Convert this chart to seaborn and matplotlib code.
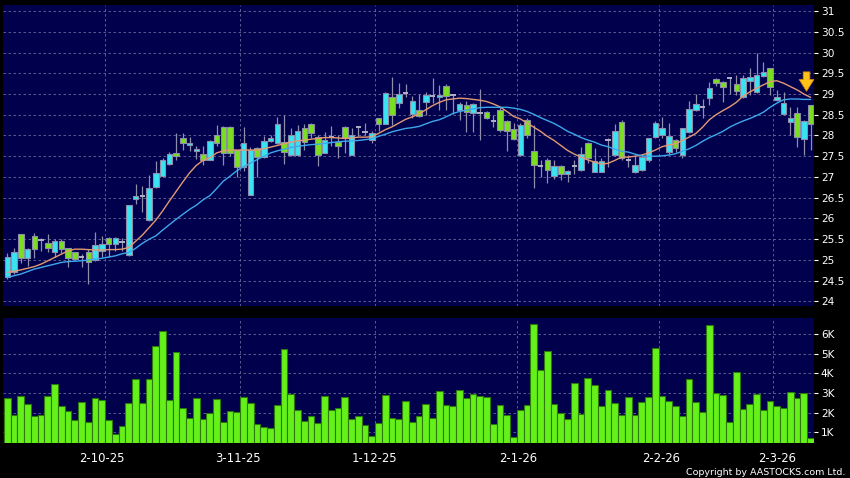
import numpy as np
import pandas as pd
import matplotlib
matplotlib.use("Agg")
import matplotlib.pyplot as plt
import seaborn as sns

# ------------------------ données ------------------------
opens = [24.58, 24.70, 25.62, 25.04, 25.57, 25.49, 25.40, 25.19, 25.45, 25.28,
         25.19, 25.06, 25.20, 25.00, 25.22, 25.54, 25.38, 25.44, 25.12, 26.47,
         26.53, 25.96, 26.75, 27.02, 27.31, 27.57, 27.93, 27.76, 27.62, 27.55,
         27.42, 28.00, 28.21, 28.21, 27.65, 27.23, 26.56, 27.69, 27.47, 27.86,
         27.83, 27.85, 27.52, 27.52, 28.17, 28.27, 27.96, 27.59, 27.97, 27.84,
         28.21, 27.53, 28.21, 28.09, 27.89, 28.41, 28.27, 28.94, 28.79, 29.02,
         28.51, 28.61, 28.80, 28.96, 28.94, 29.20, 28.97, 28.61, 28.74, 28.54,
         28.55, 28.56, 28.34, 28.61, 28.36, 28.15, 27.52, 28.38, 27.63, 27.27,
         27.41, 27.02, 27.27, 27.06, 27.27, 27.17, 27.81, 27.13, 27.13, 27.88,
         27.53, 28.32, 27.40, 27.13, 27.18, 27.41, 27.97, 28.01, 27.61, 27.89,
         27.53, 28.09, 28.61, 28.69, 28.90, 29.35, 29.30, 29.39, 29.24, 28.92,
         29.32, 29.04, 29.44, 29.62, 28.86, 28.51, 28.32, 28.55, 27.91, 28.73]
highs = [25.16, 25.28, 25.63, 25.30, 25.66, 25.52, 25.62, 25.50, 25.50, 25.30,
         25.20, 25.14, 25.26, 25.68, 25.58, 25.56, 25.55, 25.54, 26.33, 26.82,
         26.78, 27.05, 27.39, 27.45, 27.61, 28.05, 28.07, 27.97, 27.75, 27.75,
         27.90, 28.25, 28.22, 28.22, 27.66, 28.20, 27.72, 27.72, 27.98, 28.00,
         28.45, 28.49, 28.17, 28.25, 28.28, 28.30, 28.01, 28.09, 28.23, 28.00,
         28.22, 28.17, 28.21, 28.31, 28.10, 28.42, 29.04, 29.42, 29.26, 29.23,
         28.96, 29.00, 29.06, 29.38, 29.22, 29.24, 29.00, 28.80, 28.82, 28.78,
         29.11, 28.58, 28.50, 28.69, 28.38, 28.29, 28.31, 28.41, 28.25, 27.41,
         27.45, 27.41, 27.30, 27.17, 27.40, 27.73, 27.85, 27.69, 27.45, 27.95,
         28.28, 28.37, 27.53, 27.53, 27.55, 27.95, 28.35, 28.45, 28.31, 27.92,
         28.17, 28.82, 28.99, 28.87, 29.30, 29.38, 29.32, 29.39, 29.46, 29.45,
         29.62, 29.98, 29.78, 29.63, 29.10, 29.05, 28.69, 28.68, 28.38, 28.74]
lows = [24.53, 24.67, 24.92, 24.86, 25.04, 25.22, 25.18, 25.06, 25.17, 24.82,
        25.00, 24.82, 24.42, 24.98, 25.08, 25.08, 25.22, 25.22, 25.10, 26.34,
        26.16, 25.95, 26.73, 27.00, 27.29, 27.41, 27.65, 27.63, 27.43, 27.29,
        27.40, 27.74, 27.30, 27.50, 27.00, 27.15, 26.56, 27.00, 27.45, 27.85,
        27.80, 27.31, 27.50, 27.50, 27.65, 27.93, 27.27, 27.57, 27.75, 27.45,
        27.57, 27.52, 27.99, 28.00, 27.83, 28.12, 28.27, 28.26, 28.66, 28.93,
        28.41, 28.45, 28.49, 28.78, 28.61, 28.61, 28.53, 28.37, 28.09, 28.09,
        27.88, 28.40, 28.20, 28.09, 27.62, 27.89, 27.50, 27.95, 26.73, 27.00,
        26.85, 26.95, 26.93, 26.89, 27.08, 27.15, 27.33, 27.12, 27.12, 27.25,
        27.50, 27.40, 27.25, 27.10, 27.15, 27.35, 27.95, 27.95, 27.53, 27.60,
        27.45, 28.05, 28.60, 28.41, 28.74, 29.20, 28.80, 28.99, 28.98, 28.90,
        28.98, 29.02, 29.40, 28.98, 28.84, 28.50, 28.01, 27.73, 27.53, 27.65]
closes = [25.08, 25.20, 25.04, 25.26, 25.26, 25.49, 25.29, 25.45, 25.27, 25.04,
          25.02, 25.06, 24.96, 25.36, 25.38, 25.38, 25.53, 25.44, 26.32, 26.53,
          26.53, 26.74, 27.10, 27.40, 27.55, 27.51, 27.81, 27.83, 27.67, 27.40,
          27.86, 27.81, 27.57, 27.57, 27.23, 27.83, 27.66, 27.47, 27.86, 27.93,
          28.27, 27.61, 28.00, 28.12, 27.85, 28.05, 27.53, 27.89, 27.97, 27.75,
          27.93, 28.01, 28.21, 28.09, 28.07, 28.27, 29.02, 28.50, 29.00, 29.02,
          28.83, 28.47, 28.98, 28.96, 28.98, 28.96, 28.97, 28.77, 28.56, 28.75,
          28.55, 28.41, 28.34, 28.13, 28.12, 27.91, 28.25, 28.02, 27.29, 27.27,
          27.17, 27.27, 27.07, 27.15, 27.27, 27.55, 27.45, 27.39, 27.39, 27.88,
          28.12, 27.45, 27.40, 27.29, 27.47, 27.93, 28.31, 28.17, 27.99, 27.69,
          28.17, 28.63, 28.75, 28.69, 29.14, 29.26, 29.16, 29.39, 29.08, 29.38,
          29.40, 29.46, 29.52, 29.18, 28.94, 28.79, 28.41, 27.97, 28.36, 28.27]
volume_k = [2.72, 1.88, 2.85, 2.45, 1.83, 1.88, 2.85, 3.43, 2.36, 2.09,
            1.63, 2.56, 1.51, 2.75, 2.62, 1.63, 0.91, 1.31, 2.51, 3.72,
            2.50, 3.69, 5.39, 6.12, 2.63, 5.08, 2.21, 1.71, 2.72, 1.66,
            1.99, 2.67, 1.53, 2.07, 2.05, 2.80, 2.51, 1.43, 1.26, 1.20,
            2.41, 5.25, 2.94, 2.14, 1.58, 1.82, 1.48, 2.82, 2.12, 2.22,
            2.79, 1.68, 1.83, 1.36, 0.80, 1.46, 2.87, 1.70, 1.66, 2.60,
            1.54, 1.83, 2.45, 1.73, 3.11, 2.41, 2.31, 3.16, 2.73, 2.96,
            2.82, 2.77, 1.44, 2.38, 1.87, 0.78, 2.11, 2.39, 6.48, 4.16,
            5.15, 2.45, 1.97, 1.68, 3.48, 1.92, 3.76, 3.38, 2.34, 3.13,
            2.50, 1.87, 2.77, 1.88, 2.55, 2.77, 5.27, 2.82, 2.60, 2.31,
            1.83, 3.72, 2.56, 2.04, 6.44, 2.99, 2.90, 1.53, 4.06, 2.19,
            2.45, 2.96, 2.12, 2.60, 2.31, 2.21, 3.04, 2.73, 3.02, 0.71]
ma_short = [24.70, 24.73, 24.76, 24.80, 24.84, 24.90, 24.98, 25.06, 25.14, 25.22,
            25.26, 25.26, 25.25, 25.24, 25.24, 25.25, 25.25, 25.26, 25.30, 25.45,
            25.60, 25.78, 25.96, 26.18, 26.42, 26.65, 26.88, 27.10, 27.28, 27.40,
            27.46, 27.58, 27.63, 27.65, 27.65, 27.65, 27.65, 27.65, 27.68, 27.72,
            27.76, 27.80, 27.84, 27.87, 27.89, 27.91, 27.93, 27.95, 27.95, 27.94,
            27.93, 27.94, 27.96, 27.96, 27.97, 28.05, 28.14, 28.21, 28.30, 28.39,
            28.45, 28.52, 28.62, 28.72, 28.80, 28.86, 28.88, 28.90, 28.89, 28.87,
            28.85, 28.82, 28.76, 28.69, 28.58, 28.46, 28.40, 28.30, 28.20, 28.10,
            27.98, 27.88, 27.76, 27.64, 27.55, 27.48, 27.41, 27.36, 27.31, 27.33,
            27.40, 27.48, 27.48, 27.50, 27.53, 27.58, 27.65, 27.73, 27.77, 27.80,
            27.88, 27.96, 28.05, 28.20, 28.38, 28.50, 28.60, 28.69, 28.80, 28.95,
            29.05, 29.14, 29.22, 29.30, 29.32, 29.26, 29.18, 29.10, 29.00, 28.92]
ma_long = [24.58, 24.62, 24.66, 24.72, 24.78, 24.82, 24.86, 24.90, 24.94, 24.96,
           24.97, 24.98, 25.00, 25.02, 25.04, 25.07, 25.10, 25.15, 25.18, 25.28,
           25.40, 25.50, 25.58, 25.72, 25.85, 25.98, 26.10, 26.22, 26.32, 26.45,
           26.55, 26.72, 26.90, 27.02, 27.15, 27.25, 27.33, 27.42, 27.50, 27.58,
           27.63, 27.67, 27.71, 27.74, 27.76, 27.78, 27.79, 27.81, 27.83, 27.85,
           27.86, 27.87, 27.88, 27.90, 27.92, 27.98, 28.03, 28.09, 28.13, 28.17,
           28.19, 28.22, 28.28, 28.34, 28.38, 28.45, 28.53, 28.58, 28.61, 28.64,
           28.67, 28.68, 28.68, 28.68, 28.68, 28.66, 28.63, 28.58, 28.51, 28.43,
           28.36, 28.29, 28.20, 28.10, 28.03, 27.95, 27.89, 27.84, 27.77, 27.73,
           27.67, 27.62, 27.60, 27.55, 27.51, 27.50, 27.50, 27.51, 27.53, 27.56,
           27.62, 27.68, 27.76, 27.86, 27.95, 28.02, 28.10, 28.20, 28.28, 28.35,
           28.41, 28.48, 28.56, 28.68, 28.78, 28.86, 28.88, 28.88, 28.87, 28.87]
date_labels = ["2-10-25", "3-11-25", "1-12-25", "2-1-26", "2-2-26", "2-3-26"]
date_pos = [14, 34.2, 54.4, 75.7, 96.8, 114]
month_lines = [14.5, 34.5, 54.5, 75.5, 96.5, 113.5]
price_ticks = [24, 24.5, 25, 25.5, 26, 26.5, 27, 27.5, 28, 28.5, 29, 29.5, 30, 30.5, 31]
vol_ticks = [1, 2, 3, 4, 5, 6]

df = pd.DataFrame({"open": opens, "high": highs, "low": lows, "close": closes,
                   "vol": volume_k, "ma_s": ma_short, "ma_l": ma_long})
df["idx"] = np.arange(len(df))

# ------------------------ style ------------------------
sns.set_style("dark")
plt.rcParams["font.family"] = ["DejaVu Sans"]

BG = "#000000"
PANEL = "#00004C"
GRID = "#6A6A9A"
CYAN = "#38E4F2"
GREEN = "#7ADF1E"
EDGE = "#8E8EAA"
VOL = "#66F01A"

fig = plt.figure(figsize=(8.5, 4.78), dpi=100, facecolor=BG)
ax = fig.add_axes([0.0041, 0.3598, 0.9535, 0.6297])
axv = fig.add_axes([0.0041, 0.0726, 0.9535, 0.2611])
xlim = (-0.57, 119.5)

def style_panel(a):
    a.set_facecolor(PANEL)
    for s in a.spines.values():
        s.set_visible(False)
    a.grid(False)
    a.set_xlim(*xlim)
    a.yaxis.tick_right()
    a.tick_params(axis="y", colors="white", length=3, width=0.8, pad=2, labelsize=7.6)
    a.set_xlabel("")
    a.set_ylabel("")

# ------------------------ chandeliers ------------------------
up = df["close"] > df["open"]
down = df["close"] < df["open"]
doji = df["close"] == df["open"]
ax.vlines(df["idx"], df["low"], df["high"], color=EDGE, lw=0.9, zorder=2)
body_lo = df[["open", "close"]].min(axis=1)
body_h = (df["close"] - df["open"]).abs()
ax.bar(df["idx"][up], body_h[up], bottom=body_lo[up], width=0.8,
       color=CYAN, edgecolor=EDGE, linewidth=0.8, zorder=3)
ax.bar(df["idx"][down], body_h[down], bottom=body_lo[down], width=0.8,
       color=GREEN, edgecolor=EDGE, linewidth=0.8, zorder=3)
ax.hlines(df["close"][doji], df["idx"][doji] - 0.4, df["idx"][doji] + 0.4,
          color="#B0B0C8", lw=1.4, zorder=3)

# moyennes mobiles
sns.lineplot(data=df, x="idx", y="ma_s", ax=ax, color="#E39A72", lw=1.0, zorder=4)
sns.lineplot(data=df, x="idx", y="ma_l", ax=ax, color="#3DA8EC", lw=1.0, zorder=4)

# flèche
ax.annotate("", xy=(118.4, 29.0), xytext=(118.4, 29.6),
            arrowprops=dict(arrowstyle="simple,head_length=0.6,head_width=0.75,tail_width=0.34",
                            fc="#FFC21A", ec="#D88A00", lw=0.6, mutation_scale=14),
            zorder=6)

style_panel(ax)
ax.set_ylim(23.89, 31.145)
ax.set_yticks(price_ticks)
ax.set_yticklabels([f"{t:g}" for t in price_ticks])
ax.set_xticks([])
for p in price_ticks:
    ax.axhline(p, color=GRID, lw=0.6, ls=(0, (3, 3)), zorder=1)
for m in month_lines:
    ax.axvline(m, color=GRID, lw=0.6, ls=(0, (3, 3)), zorder=1)

# ------------------------ volume ------------------------
sns.barplot(data=df, x="idx", y="vol", ax=axv, native_scale=True, width=1.0,
            color=VOL, saturation=1, edgecolor="#2C7A0C", linewidth=0.8, zorder=3)
style_panel(axv)
axv.set_ylim(0.44, 6.78)
axv.set_yticks(vol_ticks)
axv.set_yticklabels([f"{v}K" for v in vol_ticks])
axv.set_xticks(date_pos)
axv.set_xticklabels(date_labels)
axv.tick_params(axis="x", colors="white", length=3, width=0.8, pad=3, labelsize=8.4)
for v in vol_ticks:
    axv.axhline(v, color=GRID, lw=0.6, ls=(0, (3, 3)), zorder=1)
for m in month_lines:
    axv.axvline(m, color=GRID, lw=0.6, ls=(0, (3, 3)), zorder=1)

fig.text(0.995, 0.003, "Copyright by AASTOCKS.com Ltd.", color="white",
         fontsize=6.8, ha="right", va="bottom")

fig.savefig("out.png", dpi=100, facecolor=BG)
